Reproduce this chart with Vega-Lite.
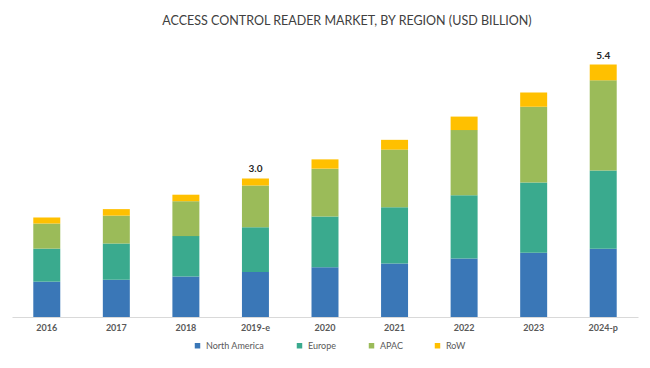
{
  "$schema": "https://vega.github.io/schema/vega-lite/v6.json",
  "autosize": "none",
  "width": 626,
  "height": 279,
  "padding": {"left": 12, "top": 38, "right": 12, "bottom": 51},
  "background": "white",
  "title": {
    "text": "ACCESS CONTROL READER MARKET, BY REGION (USD BILLION)",
    "font": "Lato",
    "fontSize": 12.5,
    "fontWeight": "normal",
    "color": "#404040",
    "anchor": "middle",
    "offset": 11,
    "dx": 22
  },
  "config": {
    "view": {"stroke": null},
    "font": "Lato"
  },
  "data": {
    "values": [
      {"year": "2016", "region": "North America", "value": 0.76},
      {"year": "2016", "region": "Europe", "value": 0.71},
      {"year": "2016", "region": "APAC", "value": 0.54},
      {"year": "2016", "region": "RoW", "value": 0.13},
      {"year": "2017", "region": "North America", "value": 0.80},
      {"year": "2017", "region": "Europe", "value": 0.78},
      {"year": "2017", "region": "APAC", "value": 0.60},
      {"year": "2017", "region": "RoW", "value": 0.14},
      {"year": "2018", "region": "North America", "value": 0.87},
      {"year": "2018", "region": "Europe", "value": 0.87},
      {"year": "2018", "region": "APAC", "value": 0.75},
      {"year": "2018", "region": "RoW", "value": 0.14},
      {"year": "2019-e", "region": "North America", "value": 0.97},
      {"year": "2019-e", "region": "Europe", "value": 0.96},
      {"year": "2019-e", "region": "APAC", "value": 0.90},
      {"year": "2019-e", "region": "RoW", "value": 0.15},
      {"year": "2020", "region": "North America", "value": 1.07},
      {"year": "2020", "region": "Europe", "value": 1.09},
      {"year": "2020", "region": "APAC", "value": 1.03},
      {"year": "2020", "region": "RoW", "value": 0.20},
      {"year": "2021", "region": "North America", "value": 1.15},
      {"year": "2021", "region": "Europe", "value": 1.21},
      {"year": "2021", "region": "APAC", "value": 1.24},
      {"year": "2021", "region": "RoW", "value": 0.21},
      {"year": "2022", "region": "North America", "value": 1.26},
      {"year": "2022", "region": "Europe", "value": 1.36},
      {"year": "2022", "region": "APAC", "value": 1.40},
      {"year": "2022", "region": "RoW", "value": 0.29},
      {"year": "2023", "region": "North America", "value": 1.38},
      {"year": "2023", "region": "Europe", "value": 1.51},
      {"year": "2023", "region": "APAC", "value": 1.63},
      {"year": "2023", "region": "RoW", "value": 0.31},
      {"year": "2024-p", "region": "North America", "value": 1.47},
      {"year": "2024-p", "region": "Europe", "value": 1.68},
      {"year": "2024-p", "region": "APAC", "value": 1.94},
      {"year": "2024-p", "region": "RoW", "value": 0.34}
    ]
  },
  "encoding": {
    "x": {
      "field": "year",
      "type": "nominal",
      "sort": null,
      "scale": {"paddingInner": 0.612, "paddingOuter": 0.306},
      "axis": {
        "title": null,
        "labelAngle": 0,
        "ticks": false,
        "domainColor": "#d9d9d9",
        "domainWidth": 1,
        "labelFont": "Lato",
        "labelFontSize": 9,
        "labelFontWeight": "bold",
        "labelColor": "#595959",
        "labelPadding": 6
      }
    }
  },
  "layer": [
    {
      "transform": [
        {"calculate": "indexof(['North America','Europe','APAC','RoW'], datum.region)", "as": "stackOrder"}
      ],
      "mark": {"type": "bar"},
      "encoding": {
        "y": {
          "field": "value",
          "type": "quantitative",
          "stack": "zero",
          "scale": {"domain": [0, 6], "nice": false},
          "axis": null
        },
        "order": {"field": "stackOrder", "type": "quantitative", "sort": "ascending"},
        "color": {
          "field": "region",
          "type": "nominal",
          "sort": ["North America", "Europe", "APAC", "RoW"],
          "scale": {
            "domain": ["North America", "Europe", "APAC", "RoW"],
            "range": ["#3a77b7", "#3aaa8e", "#9bbb59", "#ffc000"]
          },
          "legend": {
            "title": null,
            "orient": "none",
            "direction": "horizontal",
            "legendX": 181,
            "legendY": 303,
            "symbolType": "square",
            "symbolSize": 30,
            "symbolStrokeWidth": 0,
            "labelFont": "Lato",
            "labelFontSize": 9,
            "labelColor": "#595959",
            "labelOffset": 4,
            "columnPadding": 30
          }
        }
      }
    },
    {
      "transform": [
        {"filter": {"field": "year", "oneOf": ["2019-e", "2024-p"]}}
      ],
      "mark": {
        "type": "text",
        "baseline": "bottom",
        "dy": -4,
        "font": "Lato",
        "fontSize": 10,
        "fontWeight": "bold",
        "color": "#262626"
      },
      "encoding": {
        "y": {"aggregate": "sum", "field": "value", "type": "quantitative"},
        "text": {"aggregate": "sum", "field": "value", "type": "quantitative", "format": ".1f"}
      }
    }
  ]
}
